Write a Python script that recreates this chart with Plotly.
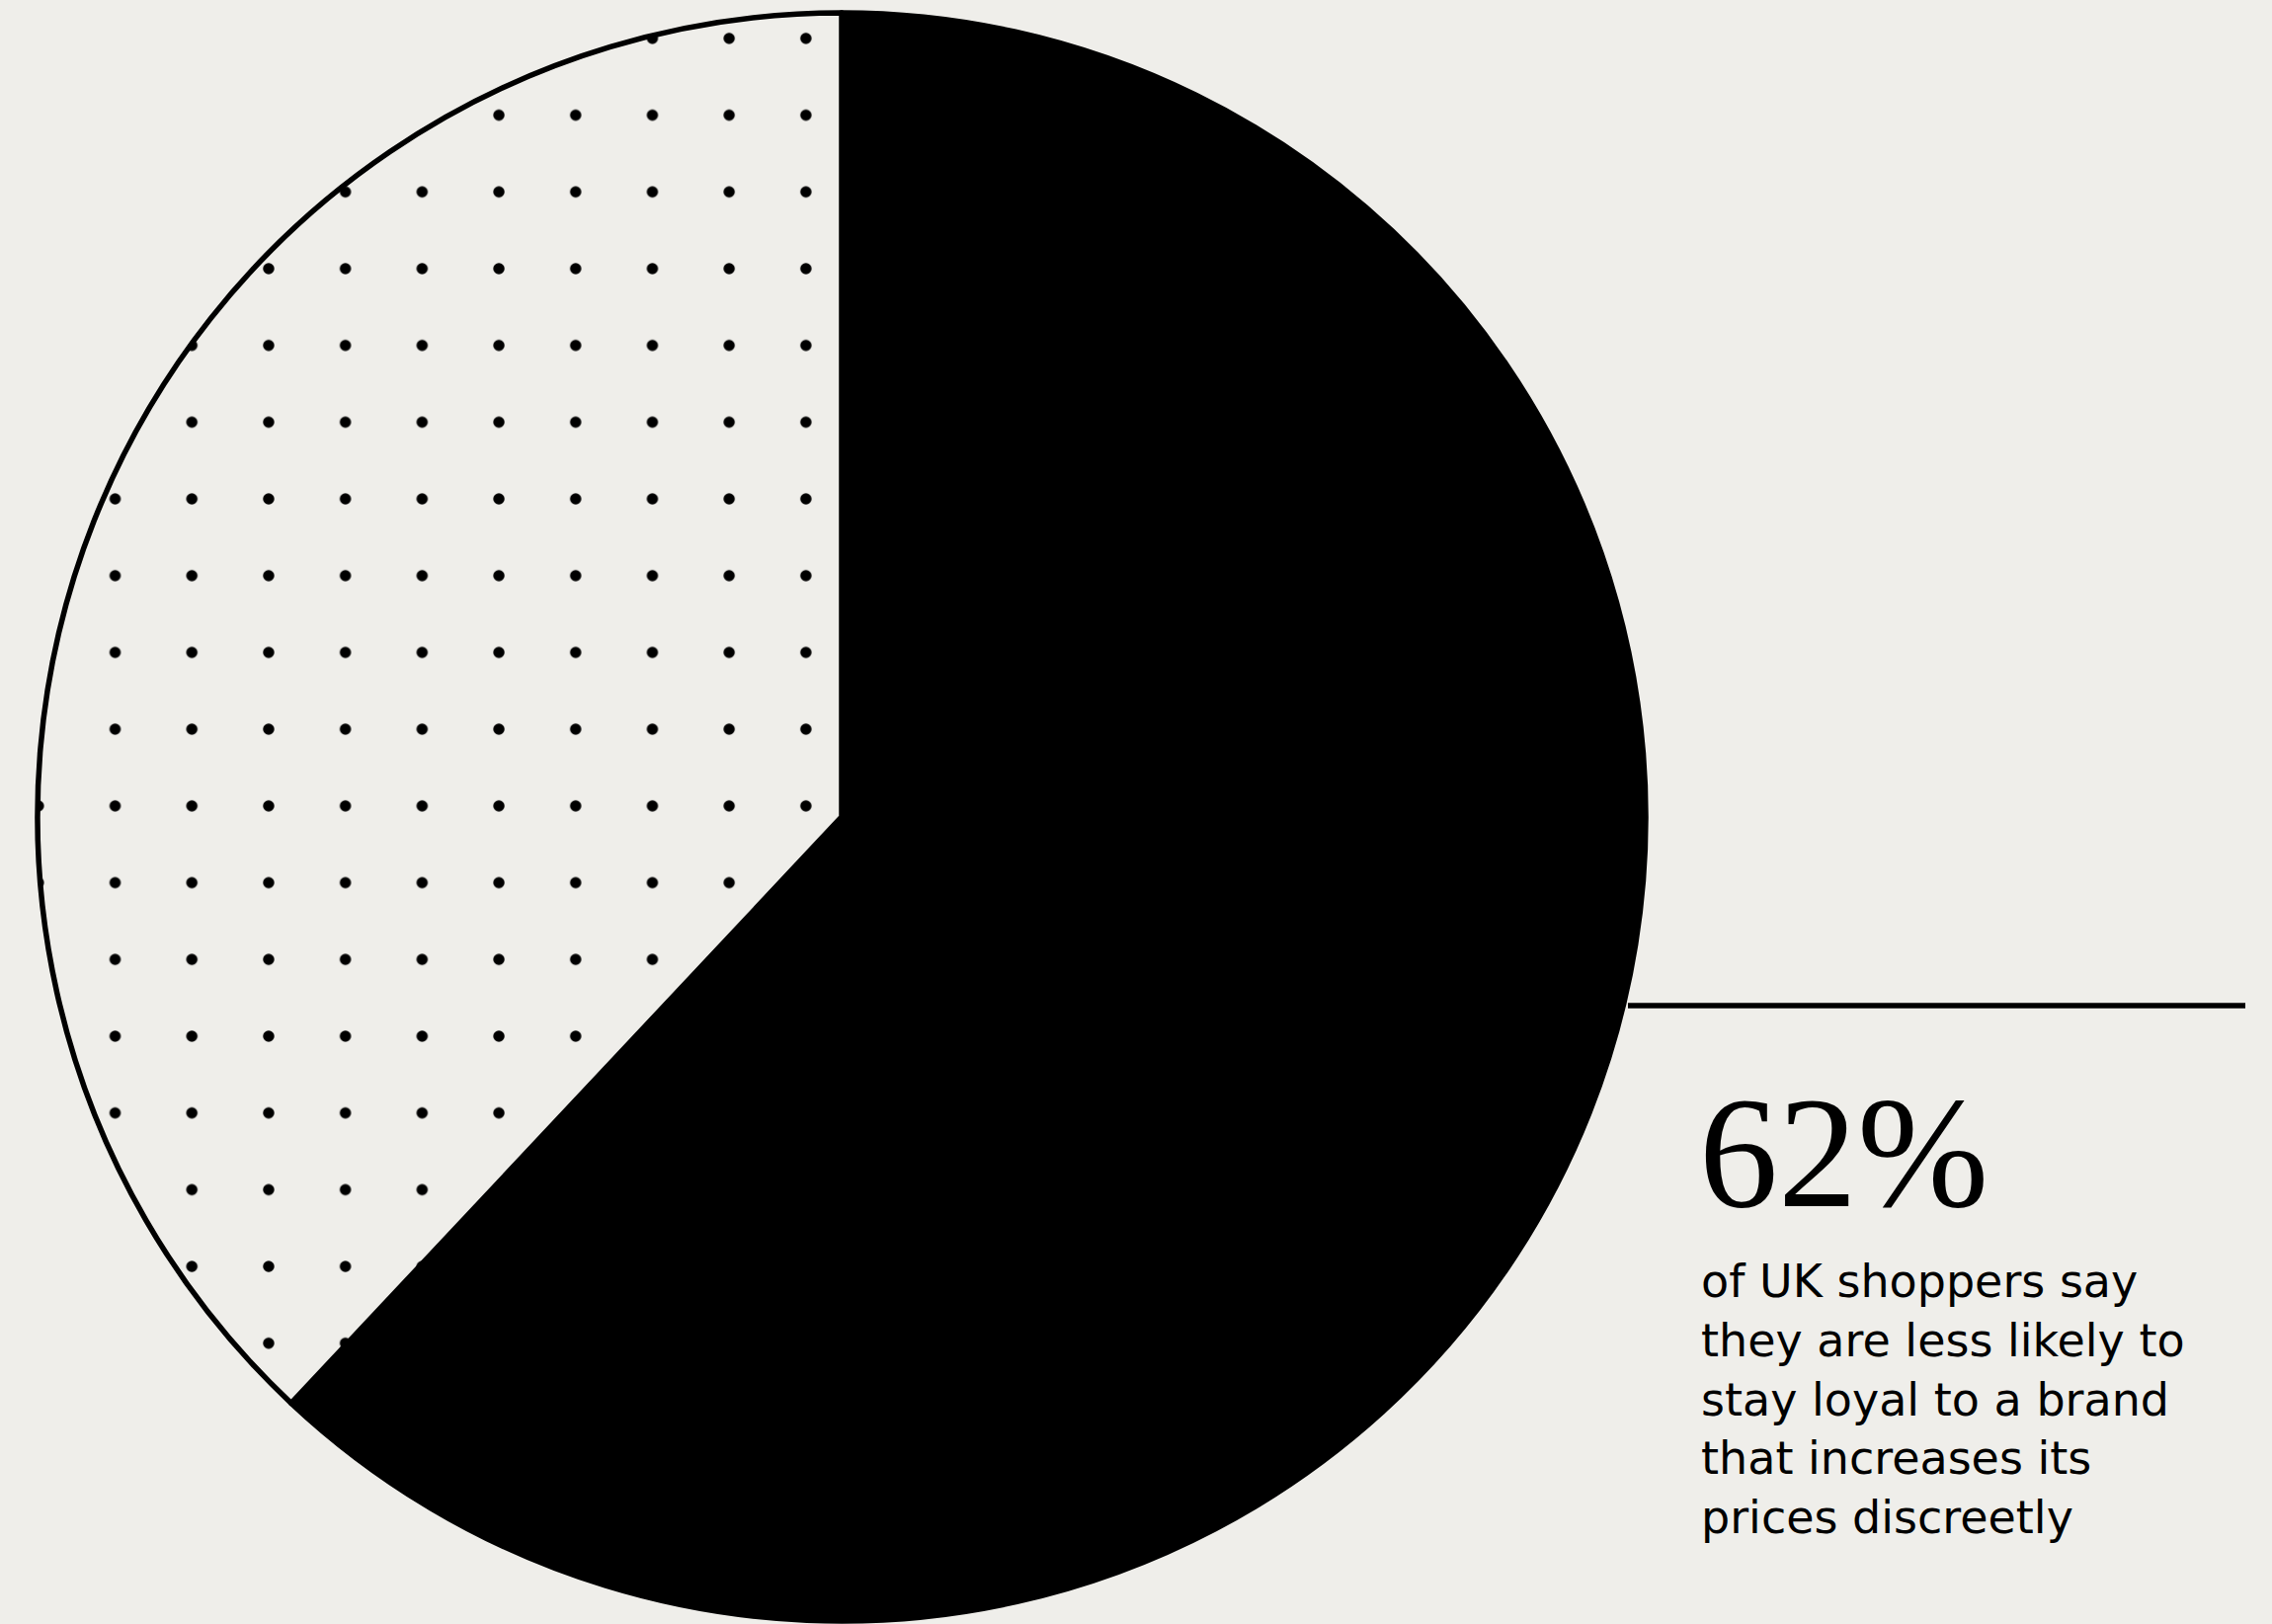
import plotly.graph_objects as go

# ---- data ----
labels = ["Less likely to stay loyal", "Other"]
values = [62, 38]
headline = f"{values[0]}%"
caption_lines = [
    "of UK shoppers say",
    "they are less likely to",
    "stay loyal to a brand",
    "that increases its",
    "prices discreetly",
]

BG = "#efeeea"
W, H = 2300, 1644

# pie geometry (pixels)
cx, cy, r = 852, 827, 814
dom_x = [(cx - r) / W, (cx + r) / W]
dom_y = [1 - (cy + r) / H, 1 - (cy - r) / H]

fig = go.Figure()
fig.add_trace(go.Pie(
    labels=labels,
    values=values,
    sort=False,
    direction="clockwise",
    rotation=0,
    textinfo="none",
    hoverinfo="skip",
    showlegend=False,
    domain=dict(x=dom_x, y=dom_y),
    marker=dict(
        colors=["#000000", BG],
        line=dict(color="#000000", width=5.5),
        pattern=dict(
            shape=["", "."],
            fgcolor=["#000000", "#000000"],
            bgcolor=["#000000", BG],
            size=77.7,
            solidity=0.017,
            fillmode="replace",
        ),
    ),
))

fig.add_shape(
    type="line", xref="paper", yref="paper",
    x0=1648 / W, x1=2273 / W, y0=1 - 1018 / H, y1=1 - 1018 / H,
    line=dict(color="#000000", width=5.5),
)

fig.add_annotation(
    text=headline, xref="paper", yref="paper",
    x=1718 / W, y=1 - 1076 / H, xanchor="left", yanchor="top",
    showarrow=False, align="left",
    font=dict(family="Liberation Serif", size=160, color="#000000"),
)

fig.add_annotation(
    text="<br>".join(caption_lines), xref="paper", yref="paper",
    x=1720 / W, y=1 - 1268 / H, xanchor="left", yanchor="top",
    showarrow=False, align="left",
    font=dict(family="DejaVu Sans", size=46, color="#000000"),
)

fig.update_layout(
    width=W, height=H,
    margin=dict(l=0, r=0, t=0, b=0),
    paper_bgcolor=BG, plot_bgcolor=BG,
)

fig.write_html("out.html")
